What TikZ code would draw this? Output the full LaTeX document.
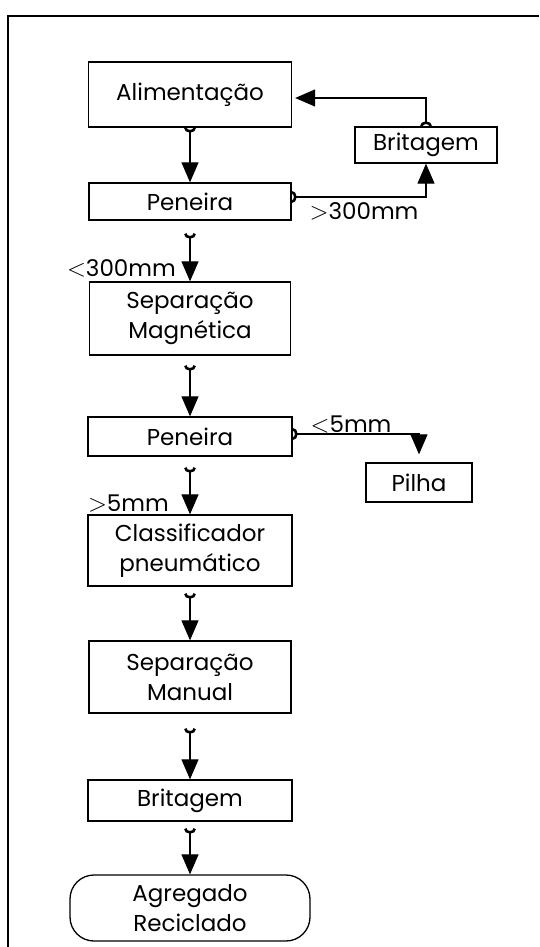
\documentclass[tikz,border=0pt]{standalone}
\usepackage{fontspec}
\setmainfont{Poppins}
\usetikzlibrary{arrows.meta}

\tikzset{
  etapa/.style={draw, line width=1.3pt, align=center, inner sep=0pt,
    font=\fontsize{23}{30}\selectfont},
  fluxo/.style={line width=1.2pt, {Arc Barb[reversed, width=12pt, length=5pt, line width=2.6pt]}-{Triangle[length=20pt, width=17pt]}},
  rotulo/.style={font=\fontsize{23}{30}\selectfont, inner sep=0pt}
}

\begin{document}
\begin{tikzpicture}[x=1pt, y=-1pt]
    \useasboundingbox (0,0) rectangle (539,947);
    \draw[line width=2pt] (539,16) -- (8,16) -- (8,947);

    \node[etapa, minimum width=203pt, minimum height=65pt] (alim) at (190,94.5) {Alimentação};
    \node[etapa, minimum width=142pt, minimum height=36pt] (brit1) at (426,145) {Britagem};
    \node[etapa, minimum width=202pt, minimum height=37pt] (pen1) at (190,201.5) {Peneira};
    \node[etapa, minimum width=201pt, minimum height=73pt] (sepmag) at (190,318.5) {Separação\\Magnética};
    \node[etapa, minimum width=204pt, minimum height=39pt] (pen2) at (190,436.5) {Peneira};
    \node[etapa, minimum width=106pt, minimum height=39pt] (pilha) at (419,482.5) {Pilha};
    \node[etapa, minimum width=204pt, minimum height=71pt] (classif) at (190,550.5) {Classificador\\pneumático};
    \node[etapa, minimum width=202pt, minimum height=72pt] (sepman) at (190,677) {Separação\\Manual};
    \node[etapa, minimum width=204pt, minimum height=41pt] (brit2) at (190,800.5) {Britagem};
    \node[etapa, rounded corners=24pt, minimum width=240pt, minimum height=66pt] (agreg) at (190,908) {Agregado\\Reciclado};

    % linha principal
    \draw[fluxo] (alim) -- (pen1);
    \draw[fluxo, shorten <=13pt] (pen1) -- (sepmag);
    \draw[fluxo, shorten <=10pt] (sepmag) -- (pen2);
    \draw[fluxo, shorten <=11pt] (pen2) -- (classif);
    \draw[fluxo, shorten <=7pt] (classif) -- (sepman);
    \draw[fluxo, shorten <=15pt] (sepman) -- (brit2);
    \draw[fluxo, shorten <=7pt] (brit2) -- (agreg);

    % desvios
    \draw[fluxo] ([yshift=4.5pt]pen1.east) -| (brit1);
    \draw[fluxo, shorten >=3pt] (brit1) |- ([yshift=-3.5pt]alim.east);
    \draw[fluxo, shorten >=8pt] ([yshift=2.5pt]pen2.east) -| (pilha);

    \node[rotulo] (mais300) at (364,211) {$>$300mm};
    \node[rotulo, anchor=east] (menos300) at (176,268) {$<$300mm};
    \node[rotulo] (menos5) at (351,425) {$<$5mm};
    \node[rotulo, anchor=east] (mais5) at (169,504) {$>$5mm};
\end{tikzpicture}
\end{document}
